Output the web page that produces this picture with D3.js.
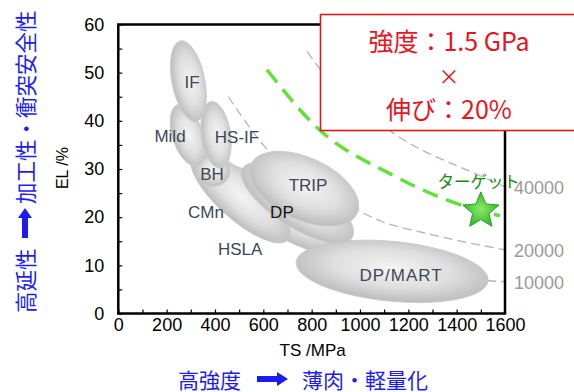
<!DOCTYPE html>
<html><head><meta charset="utf-8">
<script src="https://cdn.jsdelivr.net/npm/d3@7"></script>
<style>html,body{margin:0;padding:0;background:#fff;} svg{display:block}</style>
</head><body><svg id="c" width="574" height="392"></svg>
<script>
// ---- data ----
const xTickValues = [0,100,200,300,400,500,600,700,800,900,1000,1100,1200,1300,1400,1500,1600];
const yTickValues = [0,5,10,15,20,25,30,35,40,45,50,55,60];
const steelNames = ["HSLA","CMn","DP/MART","BH","Mild","HS-IF","IF","DP","TRIP"];
const steelAxisStart = [[380,29.8],[309,32.8],[736,10.7],[321,29.6],[247,43.4],[384,44.0],[257,56.6],[516,30.2],[550,31.0]];
const steelAxisEnd   = [[967,12.8],[702,15.3],[1530,6.8],[462,29.6],[326,30.7],[425,30.2],[323,39.9],[967,15.7],[988,20.8]];
const steelWidthRatio = [0.29,0.35,0.31,0.9,0.47,0.43,0.4,0.37,0.53];
const labelNames = ["IF","Mild","HS-IF","BH","CMn","DP","TRIP","HSLA","DP/MART"];
const labelPos = [[305,47.9],[214,36.7],[491,36.5],[388,28.8],[363,20.9],[677,20.9],[785,26.5],[504,13.2],[1170,7.8]];
const isoLabels = ["40000","20000","10000"];
const iso40000 = [[781,54.4],[826,51.3],[1137,37.5],[1497,28.6],[1600,26.3]];
const iso20000 = [[455,45.0],[600,35.0],[988,21.5],[1096,19.0],[1269,16.7],[1600,13.2]];
const iso10000 = [[1526,6.8],[1600,6.6]];
const targetCurve = [[615,50.6],[822,38.6],[1132,28.8],[1414,22.6],[1579,20.3]];
const targetPoint = [1500,21.3];
const targetLabel = "ターゲット";
const boxLines = ["強度：1.5 GPa","×","伸び：20%"];
const xTitle = "TS /MPa", yTitle = "EL /%";
const leftNoteA = "高延性", leftNoteB = "加工性・衝突安全性";
const bottomNoteA = "高強度", bottomNoteB = "薄肉・軽量化";

// ---- chart ----
const svg = d3.select("#c");
const x = d3.scaleLinear().domain([0,1600]).range([118.3,505]);
const y = d3.scaleLinear().domain([0,60]).range([313.5,24.5]);
const defs = svg.append("defs");
const grad = defs.append("radialGradient").attr("id","blob").attr("cx","50%").attr("cy","45%").attr("r","55%");
grad.append("stop").attr("offset","0%").attr("stop-color","#f4f4f4");
grad.append("stop").attr("offset","55%").attr("stop-color","#dfdfdf");
grad.append("stop").attr("offset","100%").attr("stop-color","#bcbcbc");
const sg = defs.append("radialGradient").attr("id","star").attr("cx","50%").attr("cy","50%").attr("r","50%");
sg.append("stop").attr("offset","0%").attr("stop-color","#8cea6a");
sg.append("stop").attr("offset","100%").attr("stop-color","#36b82a");

const line = d3.line().x(d=>x(d[0])).y(d=>y(d[1])).curve(d3.curveMonotoneX);

// iso curves (behind)
[iso40000, iso20000, iso10000].forEach(c=>{
  svg.append("path").attr("d",line(c)).attr("fill","none")
    .attr("stroke","#b4b4b4").attr("stroke-width",1.3).attr("stroke-dasharray","9,5");
});

// ellipses
steelNames.forEach((n,i)=>{
  const p1=[x(steelAxisStart[i][0]),y(steelAxisStart[i][1])], p2=[x(steelAxisEnd[i][0]),y(steelAxisEnd[i][1])];
  const cx=(p1[0]+p2[0])/2, cy=(p1[1]+p2[1])/2;
  const a=Math.hypot(p2[0]-p1[0],p2[1]-p1[1])/2;
  const ang=Math.atan2(p2[1]-p1[1],p2[0]-p1[0])*180/Math.PI;
  svg.append("ellipse").attr("transform",`translate(${cx},${cy}) rotate(${ang})`)
    .attr("rx",a).attr("ry",a*steelWidthRatio[i])
    .attr("fill","url(#blob)").attr("stroke","#cacaca").attr("stroke-width",0.9);
});

// ellipse labels
labelNames.forEach((n,i)=>{
  svg.append("text").attr("x",x(labelPos[i][0])).attr("y",y(labelPos[i][1]))
    .attr("text-anchor","middle").attr("dominant-baseline","central")
    .attr("font-family","Liberation Sans, Arial, sans-serif").attr("font-size",17)
    .attr("letter-spacing", n==="DP/MART"?1:0)
    .attr("fill", n==="DP"?"#111":"#3d4656").text(n);
});

// target curve
svg.append("path").attr("d",line(targetCurve)).attr("fill","none")
  .attr("stroke","#62e236").attr("stroke-width",3.5).attr("stroke-dasharray","16,9");

// axes
const xAxis = d3.axisBottom(x).tickValues(xTickValues).tickSizeInner(-4).tickSizeOuter(0).tickPadding(5)
  .tickFormat(d=> d%200===0 ? d : "");
const yAxis = d3.axisLeft(y).tickValues(yTickValues).tickSizeInner(-4).tickSizeOuter(0).tickPadding(14)
  .tickFormat(d=> d%10===0 ? d : "");
const gx = svg.append("g").attr("transform",`translate(0,${y(0)})`).call(xAxis);
const gy = svg.append("g").attr("transform",`translate(${x(0)},0)`).call(yAxis);
[gx,gy].forEach(g=>{
  g.select(".domain").remove();
  g.selectAll("line").attr("stroke","#000").attr("stroke-width",1.2);
  g.selectAll("text").attr("font-family","Liberation Sans, Arial, sans-serif").attr("font-size",18).attr("fill","#000");
});
// frame
svg.append("rect").attr("x",x(0)).attr("y",y(60)).attr("width",x(1600)-x(0)).attr("height",y(0)-y(60))
  .attr("fill","none").attr("stroke","#000").attr("stroke-width",2.5);

// iso labels on right
[iso40000, iso20000, iso10000].forEach((c,i)=>{
  const last=c[c.length-1];
  svg.append("text").attr("x",x(1600)+9).attr("y",y(last[1])+1.5)
    .attr("dominant-baseline","central").attr("font-family","Liberation Sans, Arial, sans-serif")
    .attr("font-size",18).attr("fill","#9a9a9a").text(isoLabels[i]);
});

// axis titles
svg.append("text").attr("x",(x(0)+x(1600))/2+1).attr("y",350).attr("text-anchor","middle")
  .attr("dominant-baseline","central").attr("font-family","Liberation Sans, Arial, sans-serif")
  .attr("font-size",17).attr("fill","#000").text(xTitle);
svg.append("text").attr("transform",`translate(62,${(y(0)+y(60))/2-1}) rotate(-90)`).attr("text-anchor","middle")
  .attr("dominant-baseline","central").attr("font-family","Liberation Sans, Arial, sans-serif")
  .attr("font-size",16).attr("fill","#000").text(yTitle);

// red box
svg.append("rect").attr("x",320.5).attr("y",14.5).attr("width",280).attr("height",116)
  .attr("fill","#fff").attr("stroke","#e8141e").attr("stroke-width",1.6);
const boxY=[40,75,108], boxSize=[25,21,25];
boxLines.forEach((t,i)=>{
  svg.append("text").attr("x",449).attr("y",boxY[i]).attr("text-anchor","middle")
    .attr("dominant-baseline","central").attr("font-family","Noto Sans CJK JP, sans-serif")
    .attr("font-size",boxSize[i]).attr("fill","#e8141e").text(t);
});

// star
const sx=x(targetPoint[0]), sy=y(targetPoint[1]), R=19, r=8.6;
const starPts=d3.range(10).map(k=>{const ang=-Math.PI/2+k*Math.PI/5, rr=k%2?r:R; return [sx+rr*Math.cos(ang), sy+rr*Math.sin(ang)];});
svg.append("path").attr("d","M"+starPts.join("L")+"Z").attr("fill","url(#star)")
  .attr("stroke","#2aa022").attr("stroke-width",1);
svg.append("text").attr("x",sx-2).attr("y",sy-30).attr("text-anchor","middle")
  .attr("dominant-baseline","central").attr("font-family","Noto Sans CJK JP, sans-serif")
  .attr("font-size",16.5).attr("fill","#128a12").text(targetLabel);

// blue notes
const blue="#1c1cf2";
const jf="Noto Sans CJK JP, sans-serif";
svg.append("text").attr("transform","translate(24,313) rotate(-90)").attr("dominant-baseline","central")
  .attr("font-family",jf).attr("font-size",21.5).attr("fill",blue).text(leftNoteA);
svg.append("text").attr("transform","translate(24,204) rotate(-90)").attr("dominant-baseline","central")
  .attr("font-family",jf).attr("font-size",21.5).attr("fill",blue).text(leftNoteB);
svg.append("path").attr("d","M22,238 L22,218 L18,218 L25,208 L32,218 L28,218 L28,238 Z").attr("fill",blue);
svg.append("text").attr("x",178).attr("y",378.5).attr("dominant-baseline","central")
  .attr("font-family",jf).attr("font-size",21).attr("fill",blue).text(bottomNoteA);
svg.append("text").attr("x",302).attr("y",378.5).attr("dominant-baseline","central")
  .attr("font-family",jf).attr("font-size",21).attr("fill",blue).text(bottomNoteB);
svg.append("path").attr("d","M257,376 L277,376 L277,372 L288,379 L277,386 L277,382 L257,382 Z").attr("fill",blue);
</script></body></html>
